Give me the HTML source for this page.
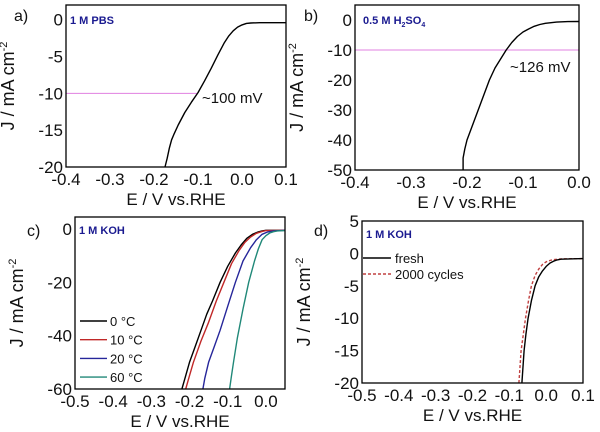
<!DOCTYPE html>
<html><head><meta charset="utf-8"><style>
body{margin:0;background:#fff}
svg{display:block;font-family:"Liberation Sans",Arial,sans-serif}
</style></head><body>
<svg id="fig" width="600" height="432" viewBox="0 0 600 432" xmlns="http://www.w3.org/2000/svg"></svg>
<script>
// Panel a data
const aX=[-0.175,-0.17,-0.165,-0.16,-0.155,-0.145,-0.13,-0.115,-0.1,-0.085,-0.07,-0.055,-0.04,-0.03,-0.02,-0.01,0,0.01,0.02,0.04,0.1];
const aJ=[-20,-18.8,-17.4,-16.3,-15.6,-14.3,-12.6,-11.2,-9.9,-8.3,-6.6,-4.8,-3.1,-2.2,-1.5,-1.0,-0.7,-0.5,-0.45,-0.4,-0.4];
// Panel b data
const bX=[-0.207,-0.207,-0.204,-0.2,-0.19,-0.18,-0.17,-0.16,-0.15,-0.14,-0.13,-0.12,-0.11,-0.1,-0.09,-0.08,-0.07,-0.06,-0.04,-0.02,0];
const bJ=[-50,-46,-43,-40,-35,-30,-25,-20,-16,-13,-10,-7.5,-5.5,-4,-3,-2.1,-1.5,-1.1,-0.7,-0.55,-0.5];
// Panel c data
const c0X=[-0.22,-0.21,-0.2,-0.185,-0.17,-0.155,-0.14,-0.12,-0.1,-0.08,-0.065,-0.05,-0.035,-0.02,-0.01,0,0.05];
const c0J=[-60,-55,-50,-44,-38,-32,-27,-20,-14,-9,-6,-3.5,-2,-1.1,-0.7,-0.5,-0.5];
const c10X=[-0.21,-0.2,-0.19,-0.17,-0.15,-0.13,-0.11,-0.09,-0.07,-0.055,-0.04,-0.025,-0.01,0,0.05];
const c10J=[-60,-55,-50,-42,-35,-27,-20,-13,-8,-5,-3,-1.6,-0.9,-0.6,-0.5];
const c20X=[-0.165,-0.16,-0.15,-0.135,-0.12,-0.1,-0.08,-0.06,-0.04,-0.025,-0.01,0.005,0.02,0.05];
const c20J=[-60,-56,-50,-44,-38,-29,-20,-12,-7,-4,-2,-1.1,-0.7,-0.5];
const c60X=[-0.095,-0.09,-0.085,-0.075,-0.06,-0.045,-0.03,-0.02,-0.01,0,0.01,0.02,0.03,0.05];
const c60J=[-60,-55,-50,-41,-30,-20,-12,-7.5,-4,-2.5,-1.5,-1,-0.7,-0.6];
const cLabels=["0 °C","10 °C","20 °C","60 °C"];
// Panel d data
const dFX=[-0.066,-0.06,-0.055,-0.049,-0.04,-0.03,-0.02,-0.01,0,0.01,0.02,0.03,0.04,0.1];
const dFJ=[-20,-15,-12.5,-10,-7.3,-5,-3.6,-2.7,-2,-1.5,-1.2,-1.0,-0.9,-0.8];
const dCX=[-0.074,-0.068,-0.062,-0.056,-0.048,-0.04,-0.03,-0.02,-0.01,0,0.01,0.02,0.04,0.1];
const dCJ=[-20,-15,-12.5,-10,-7.3,-5,-3.4,-2.4,-1.7,-1.3,-1.1,-0.95,-0.85,-0.8];
// ticks
const aXT=[-0.4,-0.3,-0.2,-0.1,0.0,0.1], aYT=[0,-5,-10,-15,-20];
const bXT=[-0.4,-0.3,-0.2,-0.1,0.0], bYT=[0,-10,-20,-30,-40,-50];
const cXT=[-0.5,-0.4,-0.3,-0.2,-0.1,0.0], cYT=[0,-20,-40,-60];
const dXT=[-0.5,-0.4,-0.3,-0.2,-0.1,0.0,0.1], dYT=[5,0,-5,-10,-15,-20];

const NS="http://www.w3.org/2000/svg";
const fig=document.getElementById('fig');
function el(tag,attrs,parent,text){const e=document.createElementNS(NS,tag);for(const k in attrs)e.setAttribute(k,attrs[k]);if(text!==undefined)e.textContent=text;(parent||fig).appendChild(e);return e;}

function panel(name,box,xr,yr,xt,yt){
  const g=el('g',{});
  
  
  const sx=v=>box.l+(v-xr[0])/(xr[1]-xr[0])*(box.r-box.l);
  const sy=v=>box.b-(v-yr[0])/(yr[1]-yr[0])*(box.b-box.t);
  xt.forEach(v=>{
    const t=el('text',{x:sx(v),y:box.b+18,'text-anchor':'middle','font-size':17,fill:'#111'},g,v.toFixed(1));
    
    
  });
  yt.forEach(v=>{
    const t=el('text',{x:box.l-3,y:sy(v)+6,'text-anchor':'end','font-size':17,fill:'#111'},g,String(v));
    
    
  });
  const xt2=el('text',{x:(box.l+box.r)/2,y:box.b+38,'text-anchor':'middle','font-size':17,fill:'#111'},g,'E / V vs.RHE');
  
  
  const cy=(box.t+box.b)/2;
  const yt2=el('text',{x:0,y:0,transform:`translate(${box.l-52},${cy}) rotate(-90)`,'text-anchor':'middle','font-size':18,fill:'#111'},g);
  
  
  yt2.appendChild(document.createTextNode('J / mA cm'));
  el('tspan',{dy:-7,'font-size':11},yt2,'-2');
  return {g,sx,sy};
}
function curve(p,X,Y,color,name,dash){
  const d=X.map((x,i)=>(i?'L':'M')+p.sx(x).toFixed(1)+','+p.sy(Y[i]).toFixed(1)).join(' ');
  const pa=el('path',{d,fill:'none',stroke:color,'stroke-width':1.4,'stroke-linejoin':'round'},p.g);
  if(dash)pa.setAttribute('stroke-dasharray',dash);
  
  
}
function frame(p,box){el('rect',{x:box.l,y:box.t,width:box.r-box.l,height:box.b-box.t,fill:'none',stroke:'#000','stroke-width':1.3},p.g);}
function lbl(g,x,y,txt,size,color,bold,name){
  const t=el('text',{x,y,'font-size':size,fill:color,'font-weight':bold?'bold':'normal'},g,txt);
  
  
  return t;
}

// a
const A={l:66,r:286,t:5,b:167};
const pa=panel('panel-a',A,[-0.4,0.1],[-20,2],aXT,aYT);
el('line',{x1:A.l,x2:pa.sx(-0.1),y1:pa.sy(-10),y2:pa.sy(-10),stroke:'#e080e0','stroke-width':1},pa.g);
curve(pa,aX,aJ,'#000','curve-pbs');
frame(pa,A);
lbl(pa.g,202,103,'~100 mV',15,'#111',false,'overpotential-label');
lbl(pa.g,70,24,'1 M PBS',11,'#1a1a90',true,'electrolyte-label');
lbl(pa.g,14,21,'a)',16,'#111',false,'panel-label');

// b
const B={l:355,r:579,t:5,b:170};
const pb=panel('panel-b',B,[-0.4,0.0],[-50,5],bXT,bYT);
el('line',{x1:B.l,x2:B.r,y1:pb.sy(-10),y2:pb.sy(-10),stroke:'#e080e0','stroke-width':1},pb.g);
curve(pb,bX,bJ,'#000','curve-h2so4');
frame(pb,B);
lbl(pb.g,510,72,'~126 mV',15,'#111',false,'overpotential-label');
const hl=lbl(pb.g,363,24,'0.5 M H',11,'#1a1a90',true,'electrolyte-label');
el('tspan',{dy:3,'font-size':7},hl,'2');
el('tspan',{dy:-3},hl,'SO');
el('tspan',{dy:3,'font-size':7},hl,'4');
lbl(pb.g,304,21,'b)',16,'#111',false,'panel-label');

// c
const C={l:75,r:285,t:217,b:389};
const pc=panel('panel-c',C,[-0.5,0.05],[-60,4.5],cXT,cYT);
const cCols=['#000','#c02828','#26269a','#208878'];
[[c0X,c0J],[c10X,c10J],[c20X,c20J],[c60X,c60J]].forEach((s,i)=>curve(pc,s[0],s[1],cCols[i],'curve-'+cLabels[i].replace(' °C','c')));
frame(pc,C);
cLabels.forEach((t,i)=>{
  const y=321+i*18.7;
  el('line',{x1:80,x2:107,y1:y,y2:y,stroke:cCols[i],'stroke-width':1.4},pc.g);
  lbl(pc.g,110,y+5,t,13,'#111',false,'legend-entry');
});
lbl(pc.g,79,234,'1 M KOH',11,'#1a1a90',true,'electrolyte-label');
lbl(pc.g,27,236,'c)',16,'#111',false,'panel-label');

// d
const D={l:362,r:583,t:221,b:383};
const pd=panel('panel-d',D,[-0.5,0.1],[-20,5],dXT,dYT);
curve(pd,dCX,dCJ,'#c04040','curve-2000-cycles','3,2');
curve(pd,dFX,dFJ,'#000','curve-fresh');
frame(pd,D);
el('line',{x1:363,x2:391,y1:258,y2:258,stroke:'#000','stroke-width':1.4},pd.g);
lbl(pd.g,395,263,'fresh',13,'#111',false,'legend-entry');
el('line',{x1:363,x2:391,y1:274,y2:274,stroke:'#c04040','stroke-width':1.4,'stroke-dasharray':'3,2'},pd.g);
lbl(pd.g,395,279,'2000 cycles',13,'#111',false,'legend-entry');
lbl(pd.g,366,238,'1 M KOH',11,'#1a1a90',true,'electrolyte-label');
lbl(pd.g,314,236,'d)',16,'#111',false,'panel-label');
</script>
</body></html>
